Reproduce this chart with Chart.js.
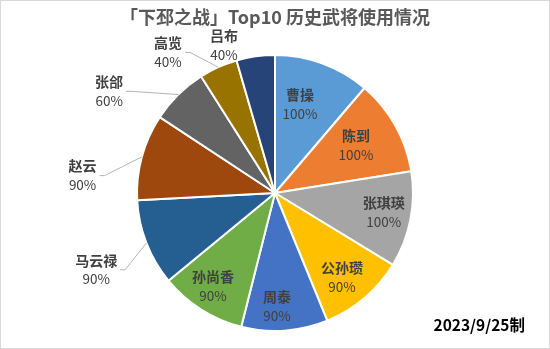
<!DOCTYPE html>
<html>
<head>
<meta charset="utf-8">
<script src="https://cdn.jsdelivr.net/npm/chart.js@4.4.0/dist/chart.umd.min.js"></script>
<style>
  html, body { margin: 0; padding: 0; background: #fff; }
  #wrap { width: 550px; height: 349px; }
</style>
</head>
<body>
<div id="wrap"><canvas id="pie" width="550" height="349"></canvas></div>
<script>
const generals = ["曹操", "陈到", "张琪瑛", "公孙瓒", "周泰", "孙尚香", "马云禄", "赵云", "张郃", "高览", "吕布"];
const usageRate = [100, 100, 100, 90, 90, 90, 90, 90, 60, 40, 40];
const titleText = "「下邳之战」Top10 历史武将使用情况";
const footText = "2023/9/25制";

const sliceColors = ["#5B9BD5", "#ED7D31", "#A5A5A5", "#FFC000", "#4472C4", "#70AD47",
  "#255E91", "#9E480E", "#636363", "#997300", "#264478"];

// label placement per slice: radius factor, angle nudge (deg), leader line
const labelStyle = [
  { r: 0.67, nudge: -4.5 },
  { r: 0.68, nudge: -1 },
  { r: 0.80, nudge: -1 },
  { r: 0.78, nudge: 2 },
  { r: 0.82, nudge: 3 },
  { r: 0.81, nudge: 1.4 },
  { r: 1.41, nudge: -2, line: true },
  { r: 1.40, nudge: -10, line: true },
  { r: 1.41, nudge: -14, line: true },
  { r: 1.28, nudge: -13, line: true },
  { r: 1.13, nudge: -11 },
];

const labelPlugin = {
  id: "sliceLabels",
  afterDatasetsDraw(chart) {
    const ctx = chart.ctx;
    const arcs = chart.getDatasetMeta(0).data;
    ctx.save();
    arcs.forEach((arc, i) => {
      const st = labelStyle[i];
      const mid = (arc.startAngle + arc.endAngle) / 2;
      const ang = mid + (st.nudge * Math.PI) / 180;
      const lx = arc.x + Math.cos(ang) * arc.outerRadius * st.r;
      const ly = arc.y + Math.sin(ang) * arc.outerRadius * st.r;
      const name = generals[i];
      const pct = usageRate[i] + "%";

      ctx.textAlign = "center";
      ctx.textBaseline = "middle";
      ctx.fillStyle = "#404040";
      ctx.font = "bold 14px 'Noto Sans CJK SC'";
      const w1 = ctx.measureText(name).width;
      ctx.fillText(name, lx, ly - 9.5);
      ctx.font = "13.5px 'Noto Sans CJK SC'";
      const w2 = ctx.measureText(pct).width;
      ctx.fillText(pct, lx, ly + 9.5);

      if (st.line) {
        const w = Math.max(w1, w2);
        const sx = lx + w / 2 + 3;
        const ex = arc.x + Math.cos(mid) * arc.outerRadius;
        const ey = arc.y + Math.sin(mid) * arc.outerRadius;
        ctx.strokeStyle = "#B4B4B4";
        ctx.lineWidth = 1;
        ctx.beginPath();
        ctx.moveTo(sx, ly);
        ctx.lineTo(sx + 5, ly);
        ctx.lineTo(ex, ey);
        ctx.stroke();
      }
    });
    ctx.restore();
  },
};

const framePlugin = {
  id: "frame",
  afterDraw(chart) {
    const ctx = chart.ctx;
    ctx.save();
    ctx.fillStyle = "#000000";
    ctx.font = "bold 15.5px 'Noto Sans CJK SC'";
    ctx.textAlign = "right";
    ctx.textBaseline = "middle";
    ctx.fillText(footText, 525, 325);
    ctx.strokeStyle = "#D9D9D9";
    ctx.lineWidth = 1;
    ctx.strokeRect(0.5, 0.5, chart.width - 1, chart.height - 1);
    ctx.restore();
  },
};

new Chart(document.getElementById("pie").getContext("2d"), {
  type: "pie",
  data: {
    labels: generals,
    datasets: [{
      data: usageRate,
      backgroundColor: sliceColors,
      borderColor: "#FFFFFF",
      borderWidth: 2,
    }],
  },
  options: {
    responsive: false,
    animation: false,
    layout: { padding: { top: 0, bottom: 17 } },
    plugins: {
      legend: { display: false },
      tooltip: { enabled: false },
      title: {
        display: true,
        text: titleText,
        color: "#595959",
        font: { family: "'Noto Sans CJK SC'", size: 18, weight: "bold", lineHeight: 1.2 },
        padding: { top: 6, bottom: 26.4 },
      },
    },
  },
  plugins: [labelPlugin, framePlugin],
});
</script>
</body>
</html>
